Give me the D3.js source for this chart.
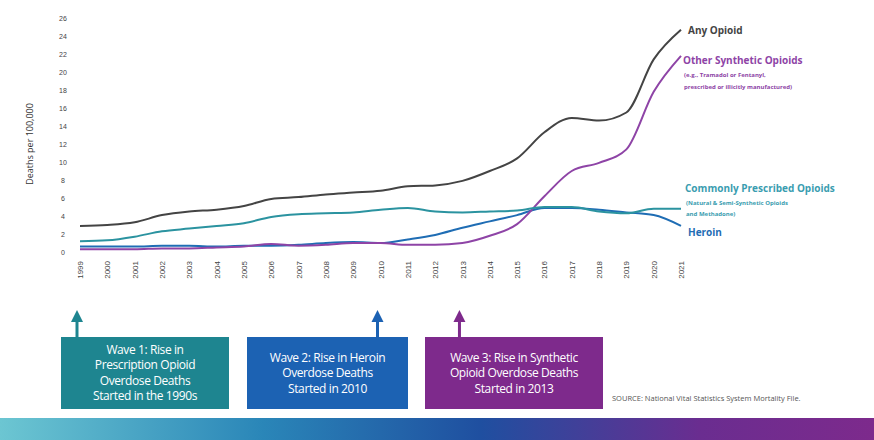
<!DOCTYPE html>
<html>
<head>
<meta charset="UTF-8">
<title>opioid waves</title>
<script src="https://cdn.jsdelivr.net/npm/d3@7"></script>
<style>
  body { margin: 0; background: #fff; }
  svg { display: block; font-family: "Open Sans", sans-serif; }
  .tick text { fill: #444; font-size: 7px; }
  .line { fill: none; stroke-width: 2px; }
</style>
</head>
<body>
<script>
var years = d3.range(1999, 2022);
var anyOpioid = [2.9, 3.0, 3.3, 4.1, 4.5, 4.7, 5.1, 5.9, 6.1, 6.4, 6.6, 6.8, 7.3, 7.4, 7.9, 9.0, 10.4, 13.3, 14.9, 14.6, 15.5, 21.4, 24.7];
var synthetic = [0.3, 0.3, 0.3, 0.4, 0.4, 0.5, 0.6, 0.9, 0.7, 0.8, 1.0, 1.0, 0.8, 0.8, 1.0, 1.8, 3.1, 6.2, 9.0, 9.9, 11.4, 17.8, 21.8];
var prescribed = [1.2, 1.3, 1.7, 2.3, 2.6, 2.9, 3.2, 3.9, 4.2, 4.3, 4.4, 4.7, 4.9, 4.5, 4.4, 4.5, 4.6, 5.0, 5.0, 4.5, 4.3, 4.8, 4.8];
var heroin = [0.6, 0.6, 0.6, 0.7, 0.7, 0.6, 0.7, 0.7, 0.8, 1.0, 1.1, 1.0, 1.4, 1.9, 2.7, 3.4, 4.1, 4.9, 4.9, 4.7, 4.4, 4.1, 2.9];
var yTicks = d3.range(0, 27, 2);

var width = 874, height = 440;
var x = d3.scaleLinear().domain([1999, 2021]).range([80, 681]);
var y = d3.scaleLinear().domain([0, 26]).range([252, 18]);

var svg = d3.select("body").append("svg")
    .attr("width", width)
    .attr("height", height);

// axes, no lines
var yAxis = svg.append("g")
    .attr("transform", "translate(68,0)")
    .call(d3.axisLeft(y).tickValues(yTicks).tickSize(0).tickPadding(0));
yAxis.select(".domain").remove();
yAxis.selectAll("text").attr("text-anchor", "middle").attr("dx", -5);

var xAxis = svg.append("g")
    .attr("transform", "translate(0,261)")
    .call(d3.axisBottom(x).tickValues(years).tickFormat(d3.format("d")).tickSize(0));
xAxis.select(".domain").remove();
xAxis.selectAll("text")
    .attr("transform", "rotate(-90)")
    .attr("text-anchor", "end")
    .attr("x", 0).attr("y", 0)
    .attr("dy", "0.32em")
    .style("font-size", "8px");

svg.append("text")
    .attr("transform", "translate(33,144) rotate(-90)")
    .attr("text-anchor", "middle")
    .attr("font-size", 9)
    .attr("fill", "#333")
    .text("Deaths per 100,000");

// series
var series = [
    { vals: heroin, color: "#1f6db4" },
    { vals: synthetic, color: "#8e44a6" },
    { vals: prescribed, color: "#2b93a0" },
    { vals: anyOpioid, color: "#444" }
];
var line = d3.line()
    .x(function(d, i) { return x(years[i]); })
    .y(function(d) { return y(d); })
    .curve(d3.curveMonotoneX);

svg.selectAll("path.line")
    .data(series)
  .enter().append("path")
    .attr("class", "line")
    .attr("stroke", function(d) { return d.color; })
    .attr("d", function(d) { return line(d.vals); });

// series labels
var labels = [
    { t: "Any Opioid", x: 688, y: 34, size: 10, bold: true, c: "#444" },
    { t: "Other Synthetic Opioids", x: 683, y: 64, size: 10, bold: true, c: "#8e44a6" },
    { t: "(e.g., Tramadol or Fentanyl,", x: 684, y: 77, size: 6, bold: true, c: "#8e44a6" },
    { t: "prescribed or illicitly manufactured)", x: 684, y: 89, size: 6, bold: true, c: "#8e44a6" },
    { t: "Commonly Prescribed Opioids", x: 685, y: 192, size: 10, bold: true, c: "#3a9db0" },
    { t: "(Natural & Semi-Synthetic Opioids", x: 686, y: 205, size: 6, bold: true, c: "#3a9db0" },
    { t: "and Methadone)", x: 686, y: 216, size: 6, bold: true, c: "#3a9db0" },
    { t: "Heroin", x: 688, y: 236, size: 10, bold: true, c: "#1f6db4" }
];
svg.selectAll("text.lbl")
    .data(labels)
  .enter().append("text")
    .attr("class", "lbl")
    .attr("x", function(d) { return d.x; })
    .attr("y", function(d) { return d.y; })
    .attr("font-size", function(d) { return d.size; })
    .attr("font-weight", function(d) { return d.bold ? "bold" : "normal"; })
    .attr("fill", function(d) { return d.c; })
    .text(function(d) { return d.t; });

// wave boxes
var waves = [
    { year: 1999, x0: 61, x1: 229, color: "#1e8590",
      lines: ["Wave 1: Rise in", "Prescription Opioid", "Overdose Deaths", "Started in the 1990s"] },
    { year: 2010, x0: 247, x1: 408, color: "#1c62b3",
      lines: ["Wave 2: Rise in Heroin", "Overdose Deaths", "Started in 2010"] },
    { year: 2013, x0: 425, x1: 603, color: "#7e2a8c",
      lines: ["Wave 3: Rise in Synthetic", "Opioid Overdose Deaths", "Started in 2013"] }
];
var boxTop = 337, boxBottom = 409;

var w = svg.selectAll("g.wave")
    .data(waves)
  .enter().append("g")
    .attr("class", "wave");

w.append("rect")
    .attr("x", function(d) { return d.x0; })
    .attr("y", boxTop)
    .attr("width", function(d) { return d.x1 - d.x0; })
    .attr("height", boxBottom - boxTop)
    .attr("fill", function(d) { return d.color; });

w.append("line")
    .attr("x1", function(d) { return x(d.year) - 3; })
    .attr("x2", function(d) { return x(d.year) - 3; })
    .attr("y1", 318).attr("y2", boxTop)
    .attr("stroke", function(d) { return d.color; })
    .attr("stroke-width", 3);

w.append("path")
    .attr("d", function(d) {
        var cx = x(d.year) - 3;
        return "M" + (cx - 6) + ",322L" + cx + ",310L" + (cx + 6) + ",322Z";
    })
    .attr("fill", function(d) { return d.color; });

w.each(function(d) {
    var g = d3.select(this);
    var n = d.lines.length;
    var startY = (boxTop + boxBottom) / 2 - (n - 1) * 15.5 / 2;
    g.selectAll("text")
        .data(d.lines)
      .enter().append("text")
        .attr("x", (d.x0 + d.x1) / 2)
        .attr("y", function(t, i) { return startY + i * 15.5; })
        .attr("dy", "0.35em")
        .attr("text-anchor", "middle")
        .attr("font-size", 12)
        .attr("letter-spacing", -0.4)
        .attr("fill", "#fff")
        .text(function(t) { return t; });
});

svg.append("text")
    .attr("x", 612)
    .attr("y", 401)
    .attr("font-size", 7.5)
    .attr("fill", "#555")
    .text("SOURCE: National Vital Statistics System Mortality File.");

// bottom band
var grad = svg.append("defs").append("linearGradient")
    .attr("id", "band")
    .attr("x1", "0%").attr("x2", "100%");
grad.selectAll("stop")
    .data([
        { o: "0%", c: "#6cc6d2" },
        { o: "30%", c: "#2a86b8" },
        { o: "55%", c: "#1f4fa0" },
        { o: "80%", c: "#6a2d90" },
        { o: "100%", c: "#7d2a8c" }
    ])
  .enter().append("stop")
    .attr("offset", function(d) { return d.o; })
    .attr("stop-color", function(d) { return d.c; });

svg.append("rect")
    .attr("x", 0).attr("y", 418)
    .attr("width", width).attr("height", 22)
    .attr("fill", "url(#band)");
</script>
</body>
</html>
